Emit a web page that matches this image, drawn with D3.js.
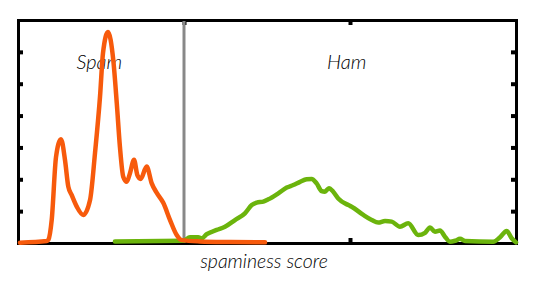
<!DOCTYPE html>
<html>
<head>
<meta charset="utf-8">
<script src="https://cdn.jsdelivr.net/npm/d3@7"></script>
<style>
    body { margin: 0; background: #fff; }
    .label { font-family: Lato, "Open Sans", sans-serif; font-style: italic; font-weight: 300; fill: #000; }
</style>
</head>
<body>
<svg id="chart" width="535" height="286"></svg>
<script>
// spaminess score (x) vs. density (y)
const spamX = [0.12, 1.73, 1.83, 2.03, 2.29, 2.59, 2.83, 3.03, 3.23, 3.54, 3.93, 4.34, 4.64, 4.94, 5.12, 5.42, 5.74, 5.95, 6.14, 6.34, 6.55, 6.75, 6.99, 7.19, 7.39, 7.75, 8.05, 8.36, 8.75, 9.16, 9.56, 9.86, 10.96, 12.77, 14.88];
const spamY = [0.01, 0.06, 0.10, 0.72, 2.70, 3.26, 2.61, 1.77, 1.51, 1.14, 0.88, 1.35, 2.83, 4.59, 5.96, 6.62, 5.74, 4.39, 3.02, 2.08, 1.92, 2.20, 2.61, 2.13, 2.01, 2.40, 1.88, 1.57, 1.26, 0.72, 0.25, 0.09, 0.05, 0.03, 0.02];

const hamX = [5.84, 9.96, 10.36, 10.86, 11.07, 11.37, 11.97, 12.47, 13.07, 13.67, 14.08, 14.38, 14.78, 15.08, 15.68, 16.19, 16.58, 16.99, 17.39, 17.69, 17.99, 18.29, 18.49, 18.73, 18.99, 19.29, 19.90, 20.10, 20.80, 21.31, 21.70, 22.11, 22.51, 23.01, 23.51, 24.11, 24.52, 24.82, 25.12, 25.42, 25.72, 26.02, 26.33, 26.63, 26.93, 28.63, 29.04, 29.44, 29.74, 30.0];
const hamY = [0.05, 0.07, 0.18, 0.18, 0.15, 0.28, 0.41, 0.51, 0.72, 0.93, 1.19, 1.27, 1.30, 1.37, 1.56, 1.74, 1.82, 1.92, 2.00, 2.01, 1.87, 1.63, 1.61, 1.72, 1.61, 1.40, 1.19, 1.14, 0.88, 0.72, 0.64, 0.69, 0.67, 0.51, 0.62, 0.25, 0.32, 0.49, 0.35, 0.39, 0.20, 0.04, 0.07, 0.13, 0.06, 0.04, 0.18, 0.38, 0.15, 0.02];

const xTicks = [10, 20];
const yTicks = [1, 2, 3, 4, 5, 6];
const threshold = 10;
const labels = [{text: "Spam", x: 4.9}, {text: "Ham", x: 19.8}];
const xTitle = "spaminess score";

const margin = {top: 20, right: 19, bottom: 43, left: 18};
const width = 535 - margin.left - margin.right;
const height = 286 - margin.top - margin.bottom;

const svg = d3.select("#chart");
const g = svg.append("g").attr("transform", `translate(${margin.left},${margin.top})`);

const x = d3.scaleLinear().domain([0, 30]).range([0, width]);
const y = d3.scaleLinear().domain([0, 7]).range([height, 0]);

// frame: four axes with small inward ticks
const axes = [
    {axis: d3.axisBottom(x).tickValues(xTicks), t: `translate(0,${height})`},
    {axis: d3.axisTop(x).tickValues(xTicks), t: "translate(0,0)"},
    {axis: d3.axisLeft(y).tickValues(yTicks), t: "translate(0,0)"},
    {axis: d3.axisRight(y).tickValues(yTicks), t: `translate(${width},0)`}
];
axes.forEach(a => {
    const ax = g.append("g")
        .attr("transform", a.t)
        .call(a.axis.tickSizeInner(-5).tickSizeOuter(0).tickFormat(""));
    ax.select(".domain").attr("stroke", "#000").attr("stroke-width", 3).attr("stroke-linecap", "square");
    ax.selectAll(".tick line").attr("stroke", "#000").attr("stroke-width", 4);
});

// threshold marker
g.append("line")
    .attr("x1", x(threshold)).attr("x2", x(threshold))
    .attr("y1", 1).attr("y2", height)
    .attr("stroke", "#888")
    .attr("stroke-width", 3);

// labels
g.selectAll(".class-label")
    .data(labels)
    .join("text")
    .attr("class", "label class-label")
    .attr("x", d => x(d.x))
    .attr("y", 49)
    .attr("text-anchor", "middle")
    .style("font-size", "20px")
    .text(d => d.text);

g.append("text")
    .attr("class", "label")
    .attr("x", width / 2 - 3)
    .attr("y", height + 25)
    .attr("text-anchor", "middle")
    .style("font-size", "19.5px")
    .text(xTitle);

const line = d3.line()
    .curve(d3.curveMonotoneX)
    .x(d => x(d[0]))
    .y(d => y(d[1]));

g.append("path")
    .datum(d3.zip(hamX, hamY))
    .attr("fill", "none")
    .attr("stroke", "#6bb40c")
    .attr("stroke-width", 4.5)
    .attr("stroke-linejoin", "round")
    .attr("stroke-linecap", "round")
    .attr("d", line);

g.append("path")
    .datum(d3.zip(spamX, spamY))
    .attr("fill", "none")
    .attr("stroke", "#f75a0c")
    .attr("stroke-width", 4.5)
    .attr("stroke-linejoin", "round")
    .attr("stroke-linecap", "round")
    .attr("d", line);
</script>
</body>
</html>
